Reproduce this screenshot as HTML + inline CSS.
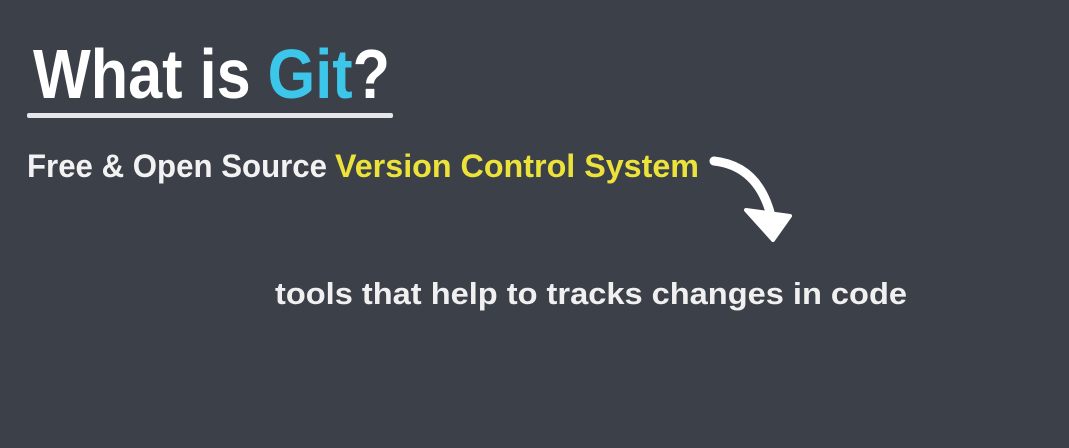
<!DOCTYPE html>
<html><head><style>
html,body{margin:0;padding:0;background:#3b4049;}
svg{display:block}
</style></head><body>
<svg width="1069" height="448" viewBox="0 0 1069 448" xmlns="http://www.w3.org/2000/svg">
<rect width="1069" height="448" fill="#3b4049"/>
<text x="33" y="98" font-family="Liberation Sans, sans-serif" font-weight="bold" font-size="70" fill="#ffffff" textLength="357" lengthAdjust="spacingAndGlyphs">What is <tspan fill="#3cc6ea">Git</tspan>?</text>
<rect x="27" y="113" width="366" height="5" fill="#e4e6ea" rx="2"/>
<text x="27" y="177" font-family="Liberation Sans, sans-serif" font-weight="bold" font-size="32" fill="#f2f2f2" textLength="300" lengthAdjust="spacingAndGlyphs">Free &amp; Open Source</text>
<text x="335" y="177" font-family="Liberation Sans, sans-serif" font-weight="bold" font-size="32" fill="#ece23a" textLength="364" lengthAdjust="spacingAndGlyphs">Version Control System</text>
<path d="M714 161 Q760 166 772 220" stroke="#ffffff" stroke-width="9" fill="none" stroke-linecap="round"/>
<path d="M746 210 L790 216 L773 240 Z" fill="#ffffff" stroke="#ffffff" stroke-width="4" stroke-linejoin="round"/>
<text x="275" y="304" font-family="Liberation Sans, sans-serif" font-weight="bold" font-size="31" fill="#f0f0f0" textLength="632" lengthAdjust="spacingAndGlyphs">tools that help to tracks changes in code</text>
</svg>
</body></html>
